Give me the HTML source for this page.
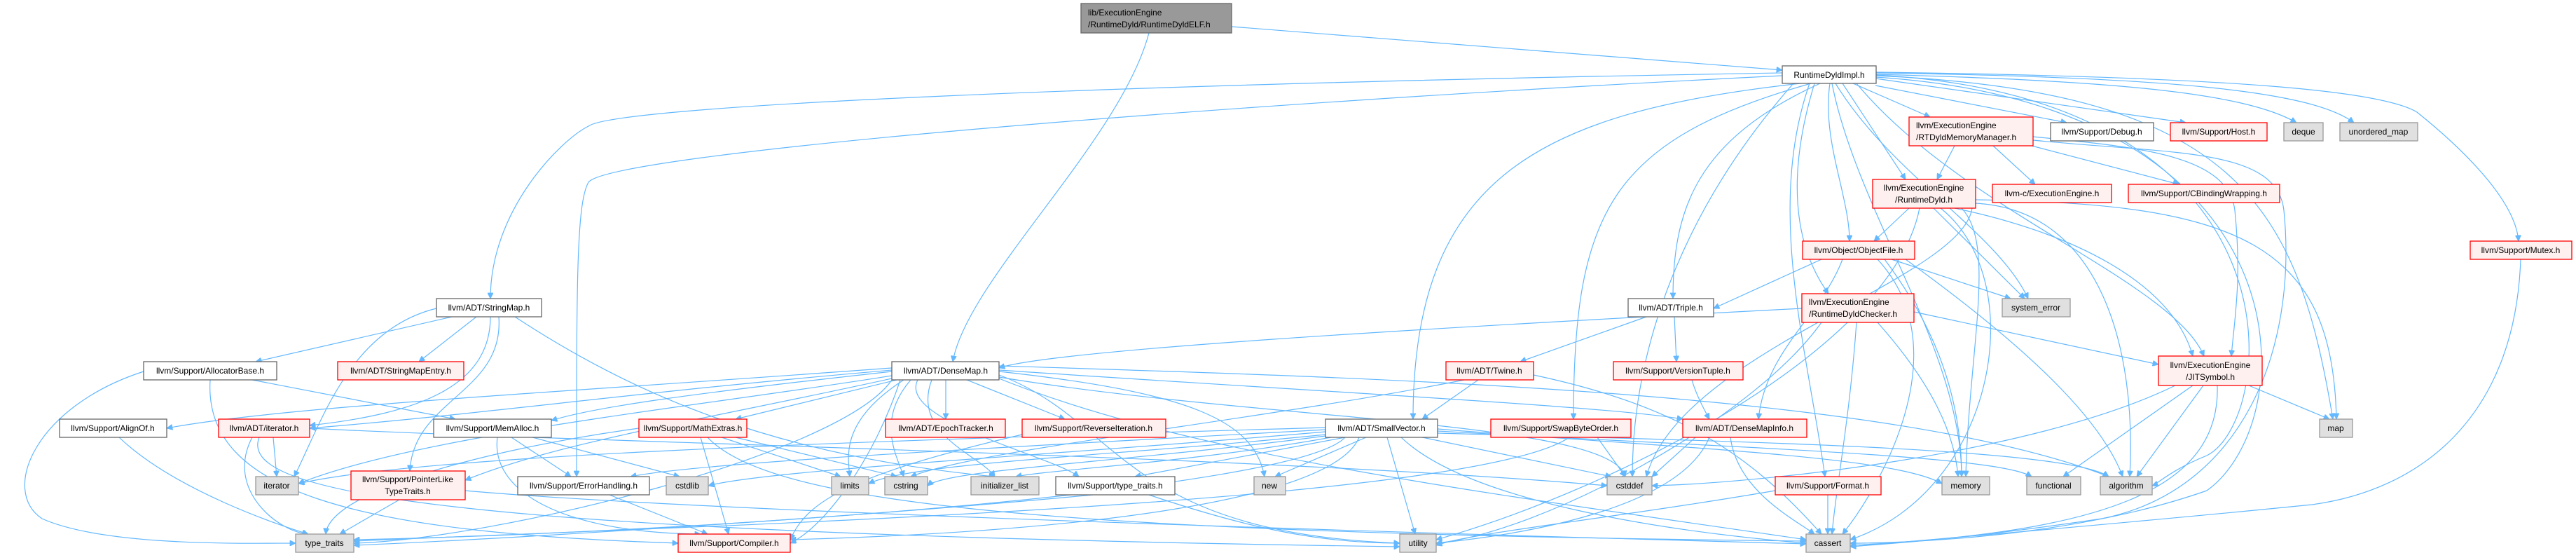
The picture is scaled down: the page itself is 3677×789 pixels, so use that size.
<!DOCTYPE html>
<html><head><meta charset="utf-8"><style>
html,body{margin:0;padding:0;background:#fff;}
svg{display:block;}
text{font-family:"Liberation Sans",Arial,sans-serif;font-size:12px;fill:#000;}
.e{fill:none;stroke:#63b8ff;stroke-width:1.2;marker-end:url(#a);}
.w{fill:#fff;stroke:#666;stroke-width:1.3;}
.r{fill:#fff0f0;stroke:#ff0000;stroke-width:1.3;}
.g{fill:#e0e0e0;stroke:#999;stroke-width:1.3;}
.s{fill:#999;stroke:#666;stroke-width:1.3;}
</style></head><body>
<svg width="3677" height="789" viewBox="0 0 3677 789" xmlns="http://www.w3.org/2000/svg">
<defs><marker id="a" viewBox="0 0 10 10" refX="10" refY="5" markerWidth="10" markerHeight="8" markerUnits="userSpaceOnUse" orient="auto"><path d="M0,0 L10,5 L0,10 z" fill="#63b8ff" stroke="#63b8ff"/></marker></defs>
<g>
<path class="e" d="M1758,38 L2544,100"/>
<path class="e" d="M1640,47 C1600,200 1380,400 1360,516"/>
<path class="e" d="M2544,104 C1600,120 880,150 840,180 C800,200 700,300 700,426"/>
<path class="e" d="M2544,108 C1700,150 870,220 840,260 C823,290 823,400 823,680"/>
<path class="e" d="M2570,119 C2200,160 2017,250 2017,598"/>
<path class="e" d="M2585,119 C2300,200 2246,300 2246,598"/>
<path class="e" d="M2598,119 C2420,200 2388,300 2388,426"/>
<path class="e" d="M2645,119 L2755,167"/>
<path class="e" d="M2677,122 L2950,175"/>
<path class="e" d="M2677,112 L3120,175"/>
<path class="e" d="M2677,106 C3000,115 3200,130 3278,175"/>
<path class="e" d="M2677,104 C3100,110 3300,130 3360,175"/>
<path class="e" d="M2677,103 C3200,110 3400,130 3450,160 C3500,200 3590,280 3595,344"/>
<path class="e" d="M2630,119 L2720,256"/>
<path class="e" d="M2612,119 C2600,200 2640,280 2640,344"/>
<path class="e" d="M2590,119 C2550,250 2560,350 2610,419"/>
<path class="e" d="M2620,119 C2700,250 2850,330 2895,426"/>
<path class="e" d="M2677,108 C3200,130 3280,300 3330,598"/>
<path class="e" d="M2677,110 C3300,150 3290,600 3150,700 C2950,770 2700,775 2641,775"/>
<path class="e" d="M2583,119 C2520,300 2580,500 2605,680"/>
<path class="e" d="M2615,119 C2650,300 2800,500 2800,680"/>
<path class="e" d="M2560,119 C2400,300 2330,500 2330,680"/>
<path class="e" d="M2650,119 C2800,300 3100,400 3146,508"/>
<path class="e" d="M2677,107 C3300,140 3250,600 3150,650 C3100,670 3080,690 3072,693"/>
<path class="e" d="M2790,208 L2765,256"/>
<path class="e" d="M2845,208 L2905,263"/>
<path class="e" d="M2900,208 L3110,263"/>
<path class="e" d="M2902,195 C3050,210 3180,220 3190,300 C3200,400 3190,450 3185,508"/>
<path class="e" d="M2902,200 C3100,220 3250,210 3260,300 C3280,500 3200,700 3000,740 C2800,770 2700,775 2641,780"/>
<path class="e" d="M2725,297 L2675,344"/>
<path class="e" d="M2790,297 C2950,330 3100,400 3130,508"/>
<path class="e" d="M2800,297 C2850,350 2810,500 2806,680"/>
<path class="e" d="M2760,297 L2890,426"/>
<path class="e" d="M2820,285 C3200,290 3330,350 3335,598"/>
<path class="e" d="M2820,290 C3000,300 3050,500 3040,680"/>
<path class="e" d="M2770,297 C2900,400 2850,700 2641,770"/>
<path class="e" d="M2815,297 C2800,400 2400,500 2350,680"/>
<path class="e" d="M2740,297 C2700,500 2300,700 2050,770"/>
<path class="e" d="M2600,370 L2446,440"/>
<path class="e" d="M2630,370 C2600,450 2520,500 2510,598"/>
<path class="e" d="M2700,370 L2870,426"/>
<path class="e" d="M2690,370 C2750,450 2800,550 2800,680"/>
<path class="e" d="M2680,370 C2800,500 2680,700 2630,762"/>
<path class="e" d="M2720,370 C2900,500 3000,600 3030,680"/>
<path class="e" d="M2572,440 C2000,470 1500,500 1426,525"/>
<path class="e" d="M2732,445 L3081,520"/>
<path class="e" d="M2680,460 C2760,550 2790,620 2795,680"/>
<path class="e" d="M2650,460 C2640,600 2620,700 2615,762"/>
<path class="e" d="M2600,460 C2500,600 2200,760 2050,775"/>
<path class="e" d="M2350,452 L2170,516"/>
<path class="e" d="M2390,452 L2393,516"/>
<path class="e" d="M2110,542 L2030,598"/>
<path class="e" d="M2189,535 C2400,580 2500,650 2600,762"/>
<path class="e" d="M2090,542 C1800,600 1400,640 1300,680"/>
<path class="e" d="M2415,542 C2420,560 2430,580 2440,598"/>
<path class="e" d="M3210,550 L3325,598"/>
<path class="e" d="M3130,550 L2945,680"/>
<path class="e" d="M3145,550 L3050,680"/>
<path class="e" d="M3165,550 C3170,700 3000,760 2641,778"/>
<path class="e" d="M3105,550 C2900,650 2500,690 2358,693"/>
<path class="e" d="M645,452 L365,516"/>
<path class="e" d="M680,452 L598,516"/>
<path class="e" d="M700,452 C700,550 600,590 442,607"/>
<path class="e" d="M623,440 C500,470 460,600 420,680"/>
<path class="e" d="M712,452 C720,560 590,570 585,672"/>
<path class="e" d="M735,452 C900,560 1100,650 1420,680"/>
<path class="e" d="M205,530 C50,580 0,700 60,740 C150,780 350,775 422,775"/>
<path class="e" d="M300,542 C290,700 500,760 968,775"/>
<path class="e" d="M360,542 L650,598"/>
<path class="e" d="M1273,525 C800,560 400,580 238,611"/>
<path class="e" d="M1273,528 C900,560 700,590 442,611"/>
<path class="e" d="M1273,530 C1000,560 850,580 787,600"/>
<path class="e" d="M1280,542 L1050,598"/>
<path class="e" d="M1350,542 L1350,598"/>
<path class="e" d="M1380,542 L1520,598"/>
<path class="e" d="M1273,536 C1000,580 600,620 426,690"/>
<path class="e" d="M1273,540 C1000,600 800,630 664,685"/>
<path class="e" d="M1290,542 C1200,600 1210,650 1213,680"/>
<path class="e" d="M1300,542 C1250,600 1280,650 1290,680"/>
<path class="e" d="M1330,542 C1300,620 1400,650 1420,680"/>
<path class="e" d="M1310,542 C1280,600 1500,650 1540,680"/>
<path class="e" d="M1426,530 C1700,560 1790,600 1805,680"/>
<path class="e" d="M1426,535 C1600,600 1600,760 1998,775"/>
<path class="e" d="M1426,538 C1800,600 2300,600 2320,680"/>
<path class="e" d="M1426,528 C1900,560 2300,580 2402,598"/>
<path class="e" d="M1426,522 C2000,540 2700,560 3010,680"/>
<path class="e" d="M1426,540 C1700,650 2100,700 2578,770"/>
<path class="e" d="M1273,542 C1200,650 700,770 505,775"/>
<path class="e" d="M1285,542 C1250,650 1180,750 1128,775"/>
<path class="e" d="M170,624 C250,700 400,750 440,762"/>
<path class="e" d="M390,624 L395,680"/>
<path class="e" d="M360,624 C320,700 400,760 440,762"/>
<path class="e" d="M442,611 C800,630 1800,650 2294,693"/>
<path class="e" d="M370,624 C340,700 600,760 1998,780"/>
<path class="e" d="M730,624 L815,680"/>
<path class="e" d="M760,624 L970,680"/>
<path class="e" d="M710,624 C700,700 800,760 1000,762"/>
<path class="e" d="M912,611 C700,640 470,700 465,762"/>
<path class="e" d="M1030,624 L1200,680"/>
<path class="e" d="M1050,624 L1280,680"/>
<path class="e" d="M1000,624 L1040,762"/>
<path class="e" d="M1010,624 C1100,720 1500,760 2578,772"/>
<path class="e" d="M870,706 L1010,762"/>
<path class="e" d="M570,713 L485,762"/>
<path class="e" d="M664,700 C1000,730 2000,760 2578,776"/>
<path class="e" d="M1560,706 C1200,740 700,770 505,778"/>
<path class="e" d="M1640,706 C1800,760 1900,775 1998,775"/>
<path class="e" d="M1459,620 C1200,680 1150,720 1128,770"/>
<path class="e" d="M1892,610 C1200,630 600,650 426,690"/>
<path class="e" d="M1892,613 C1400,640 1000,660 900,680"/>
<path class="e" d="M1892,616 C1500,650 1100,670 1011,693"/>
<path class="e" d="M1892,620 C1600,650 1300,660 1240,690"/>
<path class="e" d="M1892,622 C1600,660 1350,670 1324,693"/>
<path class="e" d="M1900,624 C1700,660 1500,670 1450,680"/>
<path class="e" d="M1920,624 L1620,680"/>
<path class="e" d="M1950,624 L1820,680"/>
<path class="e" d="M2030,624 L2300,680"/>
<path class="e" d="M2052,612 C2400,640 2700,650 2772,690"/>
<path class="e" d="M2052,615 C2500,640 2850,650 2900,680"/>
<path class="e" d="M2052,618 C2500,630 2950,640 3010,680"/>
<path class="e" d="M1980,624 L2020,762"/>
<path class="e" d="M2000,624 C2100,720 2400,760 2578,775"/>
<path class="e" d="M1920,624 C1850,700 1000,760 505,770"/>
<path class="e" d="M1940,624 C1900,720 1500,760 1128,770"/>
<path class="e" d="M2280,624 L2320,680"/>
<path class="e" d="M2240,624 C2100,720 1000,750 505,772"/>
<path class="e" d="M2470,624 C2480,700 2560,740 2590,762"/>
<path class="e" d="M2420,624 L2358,680"/>
<path class="e" d="M2440,624 C2400,720 2200,760 2050,775"/>
<path class="e" d="M2609,706 L2609,762"/>
<path class="e" d="M2534,700 C2300,740 2100,760 2050,778"/>
<path class="e" d="M3598,370 C3590,600 3450,700 3300,720 C3000,750 2750,770 2641,780"/>
</g>
<g>
<rect class="s" x="1543" y="5" width="215" height="42"/><text x="1553" y="22">lib/ExecutionEngine</text><text x="1553" y="39">/RuntimeDyld/RuntimeDyldELF.h</text>
<rect class="w" x="2544" y="94" width="134" height="25"/><text x="2611" y="111" text-anchor="middle">RuntimeDyldImpl.h</text>
<rect class="r" x="2725" y="167" width="177" height="41"/><text x="2735" y="183">llvm/ExecutionEngine</text><text x="2735" y="200">/RTDyldMemoryManager.h</text>
<rect class="w" x="2927" y="175" width="147" height="26"/><text x="3000" y="192" text-anchor="middle">llvm/Support/Debug.h</text>
<rect class="r" x="3098" y="175" width="138" height="26"/><text x="3167" y="192" text-anchor="middle">llvm/Support/Host.h</text>
<rect class="g" x="3260" y="175" width="56" height="26"/><text x="3288" y="192" text-anchor="middle">deque</text>
<rect class="g" x="3340" y="175" width="111" height="26"/><text x="3395" y="192" text-anchor="middle">unordered_map</text>
<rect class="r" x="2673" y="256" width="147" height="41"/><text x="2746" y="272" text-anchor="middle">llvm/ExecutionEngine</text><text x="2746" y="289" text-anchor="middle">/RuntimeDyld.h</text>
<rect class="r" x="2844" y="263" width="170" height="26"/><text x="2929" y="280" text-anchor="middle">llvm-c/ExecutionEngine.h</text>
<rect class="r" x="3038" y="263" width="216" height="26"/><text x="3146" y="280" text-anchor="middle">llvm/Support/CBindingWrapping.h</text>
<rect class="r" x="2573" y="344" width="160" height="26"/><text x="2653" y="361" text-anchor="middle">llvm/Object/ObjectFile.h</text>
<rect class="r" x="3526" y="344" width="145" height="26"/><text x="3598" y="361" text-anchor="middle">llvm/Support/Mutex.h</text>
<rect class="w" x="623" y="426" width="150" height="26"/><text x="698" y="443" text-anchor="middle">llvm/ADT/StringMap.h</text>
<rect class="w" x="2324" y="426" width="122" height="26"/><text x="2385" y="443" text-anchor="middle">llvm/ADT/Triple.h</text>
<rect class="r" x="2572" y="419" width="160" height="41"/><text x="2582" y="435">llvm/ExecutionEngine</text><text x="2582" y="452">/RuntimeDyldChecker.h</text>
<rect class="g" x="2858" y="426" width="97" height="26"/><text x="2906" y="443" text-anchor="middle">system_error</text>
<rect class="w" x="205" y="516" width="190" height="26"/><text x="300" y="533" text-anchor="middle">llvm/Support/AllocatorBase.h</text>
<rect class="r" x="482" y="516" width="180" height="26"/><text x="572" y="533" text-anchor="middle">llvm/ADT/StringMapEntry.h</text>
<rect class="w" x="1273" y="516" width="153" height="26"/><text x="1350" y="533" text-anchor="middle">llvm/ADT/DenseMap.h</text>
<rect class="r" x="2064" y="516" width="125" height="26"/><text x="2126" y="533" text-anchor="middle">llvm/ADT/Twine.h</text>
<rect class="r" x="2303" y="516" width="185" height="26"/><text x="2395" y="533" text-anchor="middle">llvm/Support/VersionTuple.h</text>
<rect class="r" x="3081" y="508" width="148" height="42"/><text x="3155" y="525" text-anchor="middle">llvm/ExecutionEngine</text><text x="3155" y="542" text-anchor="middle">/JITSymbol.h</text>
<rect class="w" x="85" y="598" width="153" height="26"/><text x="161" y="615" text-anchor="middle">llvm/Support/AlignOf.h</text>
<rect class="r" x="312" y="598" width="130" height="26"/><text x="377" y="615" text-anchor="middle">llvm/ADT/iterator.h</text>
<rect class="w" x="619" y="598" width="168" height="26"/><text x="703" y="615" text-anchor="middle">llvm/Support/MemAlloc.h</text>
<rect class="r" x="912" y="598" width="154" height="26"/><text x="989" y="615" text-anchor="middle">llvm/Support/MathExtras.h</text>
<rect class="r" x="1264" y="598" width="171" height="26"/><text x="1350" y="615" text-anchor="middle">llvm/ADT/EpochTracker.h</text>
<rect class="r" x="1459" y="598" width="205" height="26"/><text x="1561" y="615" text-anchor="middle">llvm/Support/ReverseIteration.h</text>
<rect class="w" x="1892" y="598" width="160" height="26"/><text x="1972" y="615" text-anchor="middle">llvm/ADT/SmallVector.h</text>
<rect class="r" x="2128" y="598" width="200" height="26"/><text x="2228" y="615" text-anchor="middle">llvm/Support/SwapByteOrder.h</text>
<rect class="r" x="2402" y="598" width="177" height="26"/><text x="2490" y="615" text-anchor="middle">llvm/ADT/DenseMapInfo.h</text>
<rect class="g" x="3311" y="598" width="47" height="26"/><text x="3334" y="615" text-anchor="middle">map</text>
<rect class="g" x="365" y="680" width="61" height="26"/><text x="395" y="697" text-anchor="middle">iterator</text>
<rect class="r" x="501" y="672" width="163" height="41"/><text x="582" y="688" text-anchor="middle">llvm/Support/PointerLike</text><text x="582" y="705" text-anchor="middle">TypeTraits.h</text>
<rect class="w" x="739" y="680" width="188" height="26"/><text x="833" y="697" text-anchor="middle">llvm/Support/ErrorHandling.h</text>
<rect class="g" x="951" y="680" width="60" height="26"/><text x="981" y="697" text-anchor="middle">cstdlib</text>
<rect class="g" x="1187" y="680" width="53" height="26"/><text x="1213" y="697" text-anchor="middle">limits</text>
<rect class="g" x="1263" y="680" width="61" height="26"/><text x="1293" y="697" text-anchor="middle">cstring</text>
<rect class="g" x="1386" y="680" width="97" height="26"/><text x="1434" y="697" text-anchor="middle">initializer_list</text>
<rect class="w" x="1507" y="680" width="170" height="26"/><text x="1592" y="697" text-anchor="middle">llvm/Support/type_traits.h</text>
<rect class="g" x="1790" y="680" width="45" height="26"/><text x="1812" y="697" text-anchor="middle">new</text>
<rect class="g" x="2294" y="680" width="64" height="26"/><text x="2326" y="697" text-anchor="middle">cstddef</text>
<rect class="r" x="2534" y="680" width="151" height="26"/><text x="2609" y="697" text-anchor="middle">llvm/Support/Format.h</text>
<rect class="g" x="2772" y="680" width="68" height="26"/><text x="2806" y="697" text-anchor="middle">memory</text>
<rect class="g" x="2893" y="680" width="77" height="26"/><text x="2931" y="697" text-anchor="middle">functional</text>
<rect class="g" x="2998" y="680" width="74" height="26"/><text x="3035" y="697" text-anchor="middle">algorithm</text>
<rect class="g" x="422" y="762" width="83" height="26"/><text x="463" y="779" text-anchor="middle">type_traits</text>
<rect class="r" x="968" y="762" width="160" height="26"/><text x="1048" y="779" text-anchor="middle">llvm/Support/Compiler.h</text>
<rect class="g" x="1998" y="762" width="52" height="26"/><text x="2024" y="779" text-anchor="middle">utility</text>
<rect class="g" x="2578" y="762" width="63" height="26"/><text x="2609" y="779" text-anchor="middle">cassert</text>
</g>
</svg>
</body></html>
